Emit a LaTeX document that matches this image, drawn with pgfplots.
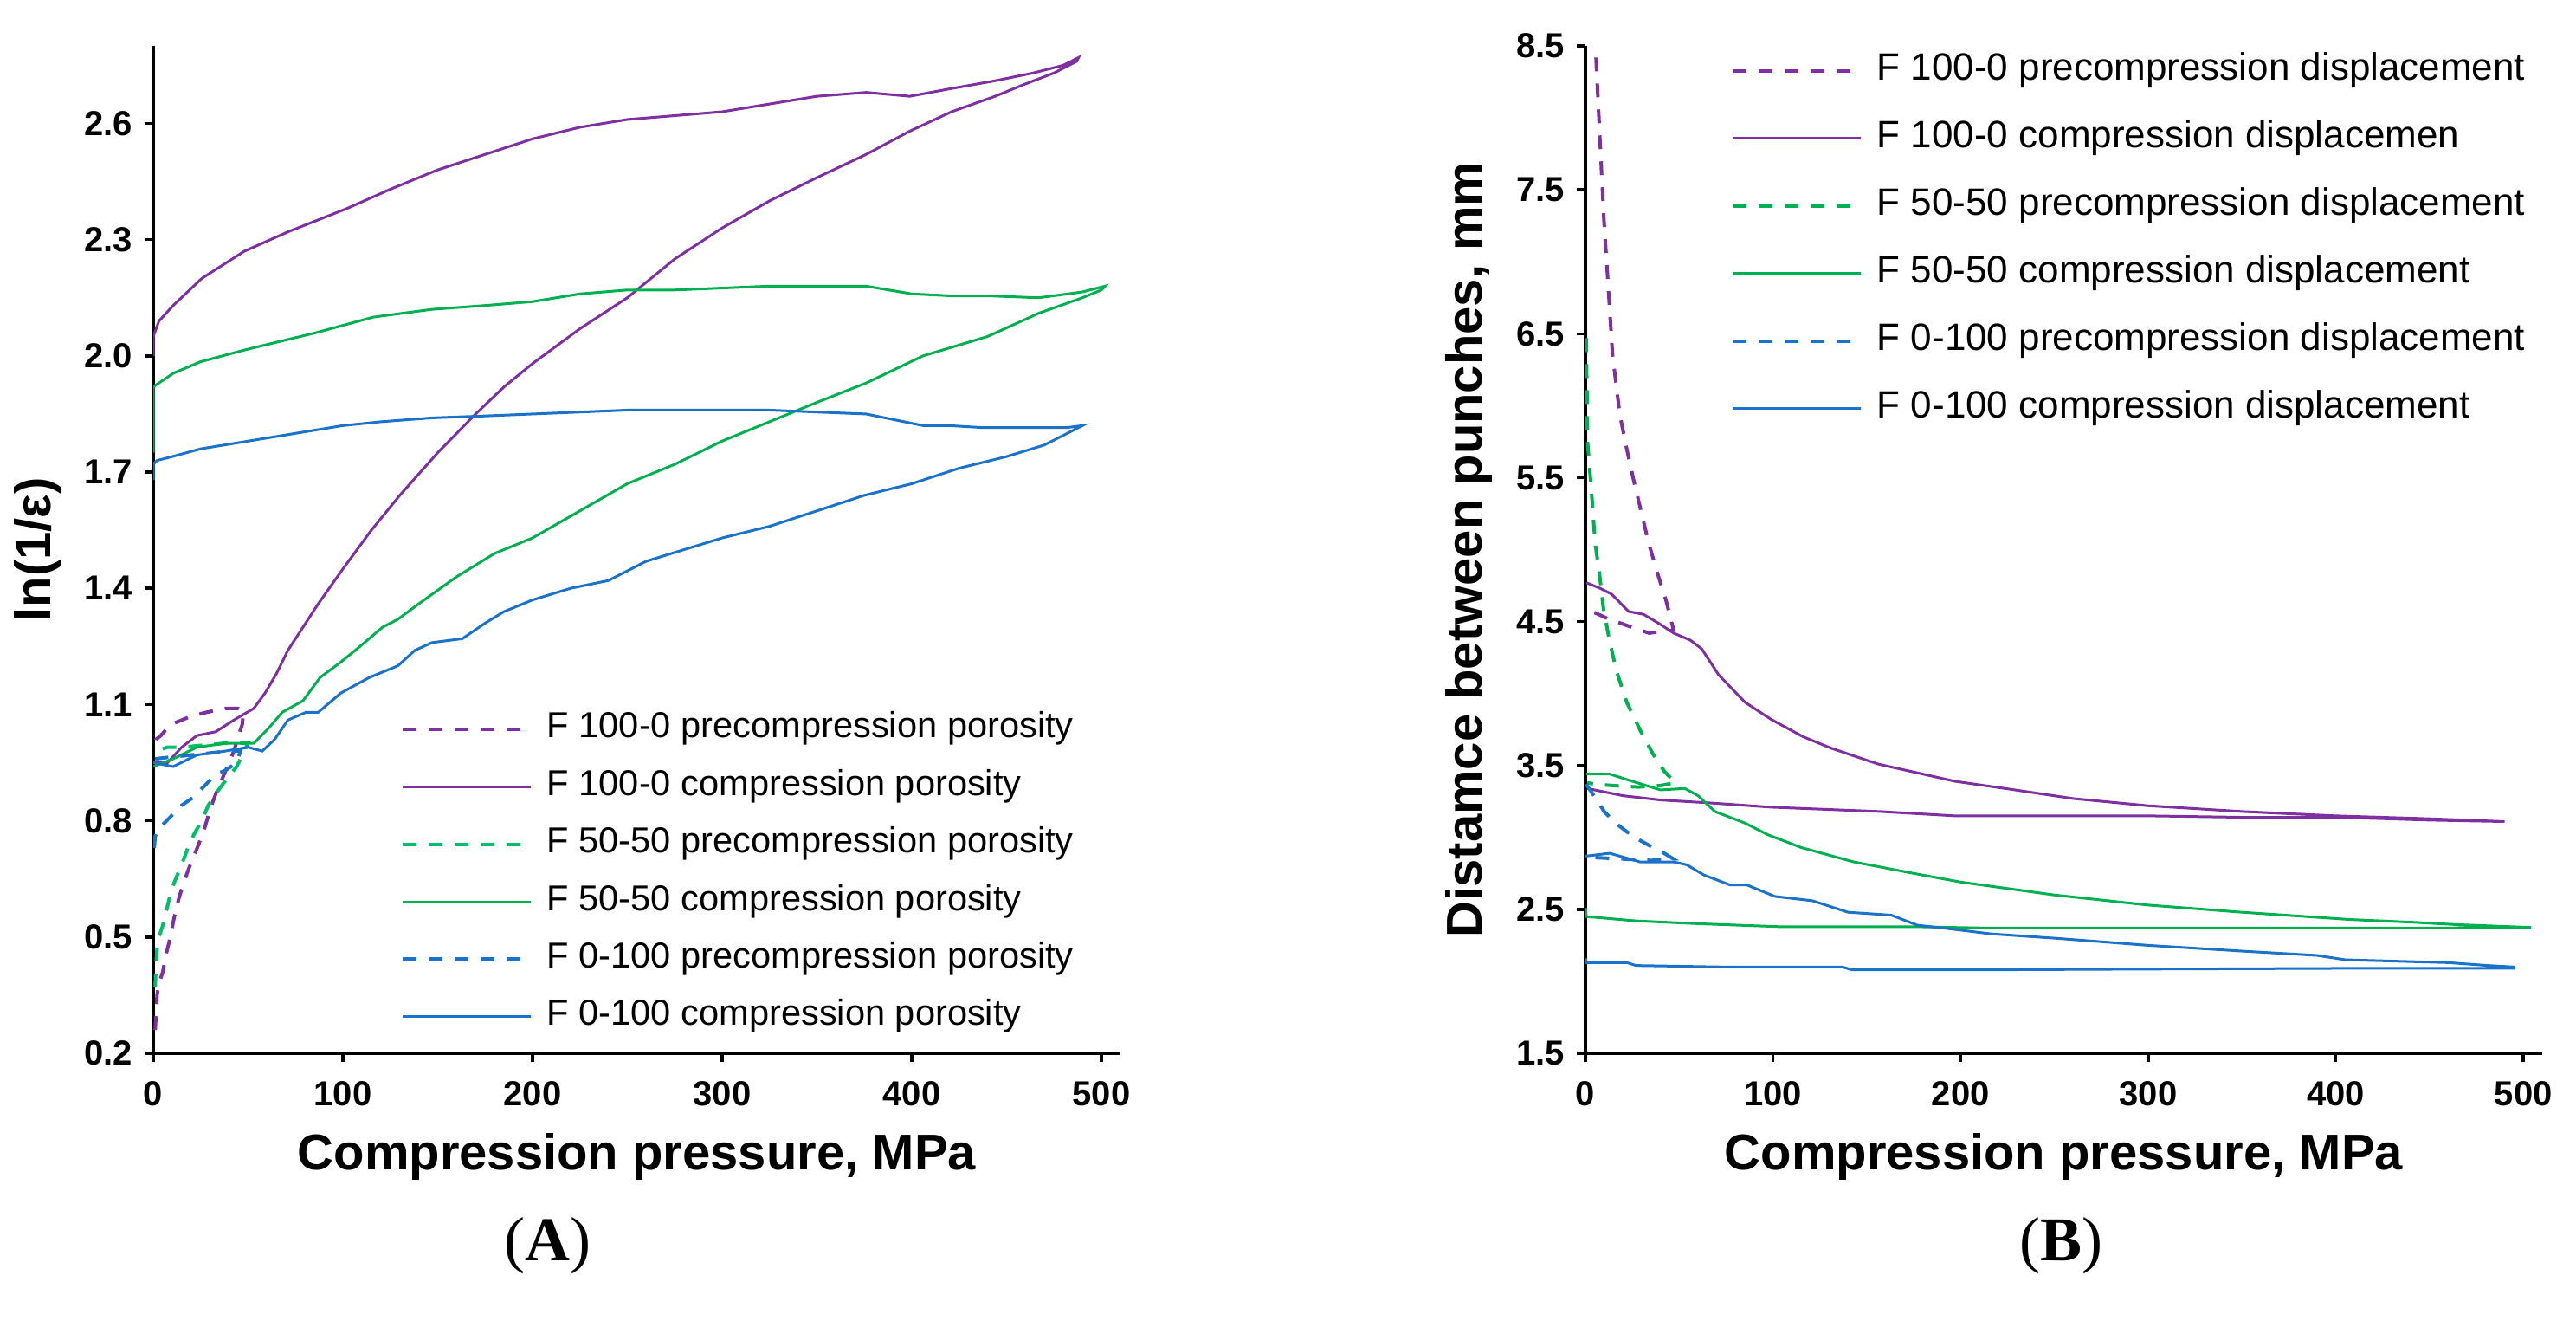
\documentclass[border=0pt]{standalone}
\usepackage{fontspec}
\setmainfont{Liberation Sans}
\newfontfamily\seriffont{Liberation Serif}
\usepackage{pgfplots}
\pgfplotsset{compat=1.18}
\definecolor{cP}{HTML}{7F30A0}
\definecolor{cG}{HTML}{00B050}
\definecolor{cG2}{HTML}{00BE6A}
\definecolor{cB}{HTML}{1A73C8}
\pgfplotsset{
 mystyle/.style={
  scale only axis, axis lines=left, axis line style={-, line width=0.9pt},
  tick align=outside, major tick length=2.5pt, tick style={line width=0.9pt, black},
  enlargelimits=false, xmin=0, xmax=510, xtick={0,100,...,500},
  /pgf/number format/assume math mode=true,
  tick label style={font=\bfseries\fontsize{10}{11}\selectfont},
  yticklabel style={/pgf/number format/.cd, fixed, fixed zerofill, precision=1},
  xticklabel style={yshift=-2pt},
  every axis x label/.style={at={(axis description cs:0.5,0)}, anchor=center, yshift=-30pt,
     font=\bfseries\fontsize{14.5}{16}\selectfont},
  legend cell align=left,
  legend image code/.code={\draw[#1] (0pt,0pt) -- (37pt,0pt);},
 },
 sl/.style={line width=0.75pt},
 dl/.style={line width=1pt, dash pattern=on 4pt off 3.5pt},
}
\begin{document}
\begin{tikzpicture}
\path[use as bounding box] (0,0) rectangle (743.75pt,382.75pt);
% ---------------- (A) ----------------
\begin{axis}[mystyle, at={(44.25pt,78.75pt)}, anchor=south west,
  width=279.2pt, height=290.75pt,
  ymin=0.2, ymax=2.8, ytick={0.2,0.5,...,2.6},
  xlabel={Compression pressure, MPa},
  ylabel={ln(1/ε)},
  every axis y label/.style={at={(axis description cs:-0.1193,0.5)}, rotate=90, anchor=center,
     font=\bfseries\fontsize{14.5}{16}\selectfont},
  legend style={at={(axis cs:130.1,1.083)}, anchor=north west, draw=none, fill=none,
    inner sep=0pt, row sep=6.6pt, column sep=4.25pt,
    nodes={inner sep=0pt, text height=7.5pt, text depth=2.5pt},
    font=\fontsize{10.4}{12}\selectfont},
]
\addplot[cP, dl] coordinates {(1,0.26) (1.5,0.30) (2,0.35) (3,0.38) (5,0.41) (7,0.46) (9,0.50) (11,0.55) (13.5,0.60) (16,0.64) (19,0.68) (24,0.74) (27,0.78) (30,0.83) (33,0.87) (36.5,0.91) (40,0.95) (42.5,0.98) (45,1.02) (47,1.05) (47.5,1.08) (45,1.09) (38,1.09) (28,1.08) (20,1.07) (15,1.06) (10,1.05) (7.5,1.04) (4,1.02) (1.4,1.01) (0.5,0.98)};
\addlegendentry{F 100-0 precompression porosity}
\addplot[cP, sl] coordinates {(0,0.95) (7.5,0.95) (15,0.99) (23,1.02) (33,1.03) (42.5,1.06) (53,1.09) (59,1.13) (65,1.18) (71,1.24) (79,1.30) (87,1.36) (100,1.45) (115,1.55) (130,1.64) (150,1.75) (170,1.85) (185,1.92) (200,1.98) (225,2.07) (250,2.15) (275,2.25) (300,2.33) (325,2.40) (350,2.46) (376,2.52) (399,2.58) (421,2.63) (444,2.67) (459,2.70) (475,2.73) (487,2.76) (488,2.77) (480,2.75) (464,2.73) (444,2.71) (421,2.69) (399,2.67) (376,2.68) (350,2.67) (325,2.65) (300,2.63) (275,2.62) (250,2.61) (225,2.59) (200,2.56) (175,2.52) (150,2.48) (125,2.43) (102,2.38) (71,2.32) (48,2.27) (25.6,2.20) (10.5,2.13) (3,2.09) (0,2.05) (0,2.0)};
\addlegendentry{F 100-0 compression porosity}
\addplot[cG2, dl] coordinates {(1,0.37) (1.5,0.43) (2,0.47) (3,0.50) (5,0.53) (7,0.57) (9,0.61) (11,0.64) (13.5,0.67) (16,0.70) (19,0.74) (22,0.77) (25.6,0.80) (29,0.84) (33,0.87) (39,0.91) (44,0.94) (47,0.97) (50,1.00) (45,1.00) (37,1.00) (26,0.995) (15,0.99) (7.5,0.99) (1.4,0.98)};
\addlegendentry{F 50-50 precompression porosity}
\addplot[cG, sl] coordinates {(0,0.94) (10.5,0.96) (23,0.99) (38,1.00) (53,1.00) (61,1.04) (68,1.08) (79,1.11) (88,1.17) (99,1.21) (109,1.25) (121,1.30) (129,1.32) (140,1.36) (160,1.43) (180,1.49) (200,1.53) (225,1.60) (250,1.67) (275,1.72) (300,1.78) (325,1.83) (350,1.88) (376,1.93) (406,2.00) (440,2.05) (467,2.11) (490,2.15) (500,2.17) (502,2.18) (490,2.165) (467,2.15) (440,2.155) (421,2.155) (400,2.16) (376,2.18) (350,2.18) (325,2.18) (300,2.175) (275,2.17) (250,2.17) (225,2.16) (200,2.14) (175,2.13) (147,2.12) (116,2.10) (86,2.06) (48,2.015) (25,1.985) (10.5,1.955) (3,1.93) (0,1.92) (0,1.75)};
\addlegendentry{F 50-50 compression porosity}
\addplot[cB, dl] coordinates {(0.5,0.73) (1,0.76) (3,0.78) (9,0.81) (15,0.84) (21,0.86) (27,0.89) (33,0.92) (38,0.93) (44,0.95) (46,0.98) (40,0.98) (30,0.975) (20,0.97) (10,0.965) (1,0.96)};
\addlegendentry{F 0-100 precompression porosity}
\addplot[cB, sl] coordinates {(0,0.95) (10.5,0.94) (23,0.97) (38,0.98) (50,0.99) (57.5,0.98) (64,1.01) (71,1.06) (80.5,1.08) (87,1.08) (99,1.13) (114,1.17) (129,1.20) (138,1.24) (147,1.26) (163,1.27) (175,1.31) (185,1.34) (200,1.37) (220,1.40) (240,1.42) (260,1.47) (280,1.50) (300,1.53) (325,1.56) (350,1.60) (375,1.64) (400,1.67) (425,1.71) (450,1.74) (470,1.77) (490,1.82) (482,1.815) (460,1.815) (437,1.815) (420,1.82) (406,1.82) (376,1.85) (350,1.855) (325,1.86) (300,1.86) (275,1.86) (250,1.86) (225,1.855) (200,1.85) (175,1.845) (147,1.84) (120,1.83) (100,1.82) (75,1.80) (50,1.78) (25,1.76) (10,1.74) (2,1.73) (0,1.72) (0,1.68)};
\addlegendentry{F 0-100 compression porosity}
\end{axis}
% ---------------- (B) ----------------
\begin{axis}[mystyle, at={(457.75pt,78.75pt)}, anchor=south west,
  width=276.2pt, height=290.75pt,
  ymin=1.5, ymax=8.5, ytick={1.5,2.5,...,8.5},
  xlabel={Compression pressure, MPa},
  ylabel={Distamce between punches, mm},
  every axis y label/.style={at={(axis description cs:-0.1213,0.5)}, rotate=90, anchor=center,
     font=\bfseries\fontsize{14.5}{16}\selectfont},
  legend style={at={(axis cs:77.1,8.46)}, anchor=north west, draw=none, fill=none,
    inner sep=0pt, row sep=8.9pt, column sep=4.25pt,
    nodes={inner sep=0pt, text height=8pt, text depth=2.6pt},
    font=\fontsize{11}{13}\selectfont},
]
\addplot[cP, dl] coordinates {(5,8.6) (5.5,8.45) (7,8.05) (8.3,7.70) (9.9,7.28) (12.1,6.84) (14.4,6.36) (18.3,5.94) (22,5.70) (25.9,5.47) (29.8,5.26) (33.6,5.05) (38.3,4.84) (42.9,4.65) (47,4.44) (40,4.43) (34,4.42) (27,4.45) (20.6,4.48) (12,4.52) (5.2,4.56) (2.2,4.57)};
\addlegendentry{F 100-0 precompression displacement}
\addplot[cP, sl] coordinates {(0.5,4.77) (8,4.73) (14,4.69) (23,4.57) (31,4.55) (40,4.48) (47,4.42) (56,4.37) (62,4.31) (71,4.13) (85,3.94) (99,3.82) (116,3.70) (131,3.62) (156,3.51) (197,3.39) (229,3.33) (260,3.27) (300,3.22) (350,3.18) (400,3.15) (450,3.13) (490,3.11) (450,3.12) (400,3.14) (350,3.14) (300,3.15) (250,3.15) (197,3.15) (157,3.18) (99,3.21) (66,3.24) (40,3.26) (20,3.29) (1,3.34)};
\addlegendentry{F 100-0 compression displacemen}
\addplot[cG, dl] coordinates {(0.4,6.47) (0.8,6.1) (1.1,5.75) (3,5.44) (5.2,5.04) (7.5,4.83) (9.5,4.60) (12.9,4.36) (16.7,4.15) (22,3.94) (29,3.75) (36,3.58) (42,3.46) (48,3.38) (40,3.36) (28,3.35) (15,3.36) (5,3.37) (1,3.38)};
\addlegendentry{F 50-50 precompression displacement}
\addplot[cG, sl] coordinates {(0.4,3.44) (13,3.44) (25,3.39) (40,3.33) (53,3.34) (60,3.29) (69,3.18) (85,3.10) (97,3.02) (115,2.93) (143,2.83) (175,2.75) (200,2.69) (250,2.60) (300,2.53) (350,2.48) (390,2.445) (407,2.43) (442,2.41) (463,2.395) (493,2.38) (504,2.375) (450,2.37) (400,2.37) (300,2.37) (215,2.37) (175,2.38) (103,2.38) (61,2.40) (27,2.42) (0.5,2.45) (0,2.51)};
\addlegendentry{F 50-50 compression displacement}
\addplot[cB, dl] coordinates {(0.4,3.37) (5,3.28) (10,3.18) (16,3.10) (22,3.04) (29,2.98) (36,2.93) (42,2.89) (47,2.85) (35,2.84) (20,2.85) (5,2.86) (0.5,2.87)};
\addlegendentry{F 0-100 precompression displacement}
\addplot[cB, sl] coordinates {(0,2.87) (13,2.89) (29,2.83) (47,2.83) (54,2.81) (63,2.74) (77,2.67) (86,2.67) (101,2.59) (121,2.56) (140,2.48) (163,2.46) (177,2.39) (191,2.37) (216,2.33) (250,2.30) (300,2.25) (350,2.21) (390,2.18) (405,2.15) (432,2.14) (460,2.13) (481,2.11) (495,2.10) (495,2.09) (400,2.09) (300,2.085) (216,2.08) (142,2.08) (137,2.10) (73,2.10) (27,2.11) (22,2.13) (0.5,2.13) (0,2.16)};
\addlegendentry{F 0-100 compression displacement}
\end{axis}
\node[font=\seriffont\fontsize{18}{20}\selectfont, anchor=center] at (158pt,23.25pt) {(\textbf{A})};
\node[font=\seriffont\fontsize{18}{20}\selectfont, anchor=center] at (595pt,23.25pt) {(\textbf{B})};
\end{tikzpicture}
\end{document}
